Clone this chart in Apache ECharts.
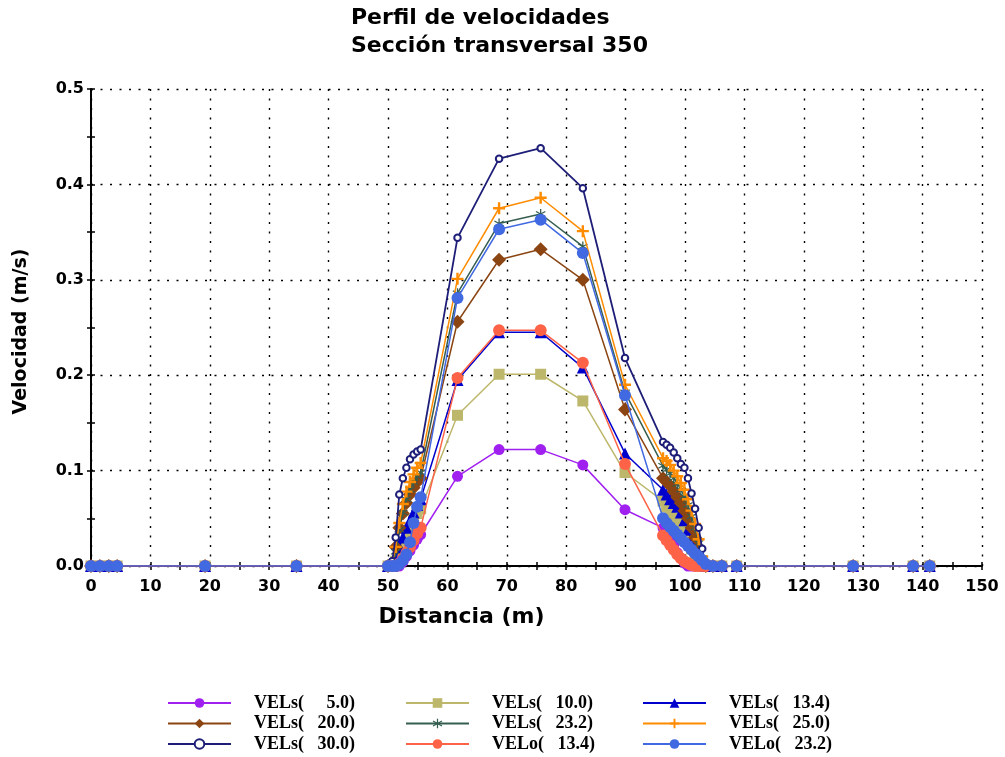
<!DOCTYPE html>
<html>
<head>
<meta charset="utf-8">
<script src="https://cdn.jsdelivr.net/npm/echarts@6/dist/echarts.min.js"></script>
<style>
html,body{margin:0;padding:0;background:#fff;}
#c{width:1005px;height:757px;}
</style>
</head>
<body>
<div id="c"></div>
<script>
// Stations (m)
const stations = [0, 1.5, 3.0, 4.4, 19.2, 34.6,
  50.0, 50.7, 51.3, 51.9, 52.5, 53.1, 53.7, 54.3, 54.9, 55.5,
  61.7, 68.7, 75.7, 82.8, 89.9,
  96.3, 96.9, 97.5, 98.1, 98.7, 99.3, 99.9, 100.5, 101.1, 101.7, 102.3, 102.9, 103.5,
  104.7, 106.2, 108.7, 128.3, 138.4, 141.2];

// Velocities (m/s)
const vels5 = [0,0,0,0,0,0,
  0,0,0,0,0.004,0.010,0.016,0.022,0.028,0.033,
  0.094,0.122,0.122,0.106,0.059,
  0.040,0.035,0.030,0.022,0.014,0.008,0.003,0,0,0,0,0,0,
  0,0,0,0,0,0];
const vels10 = [0,0,0,0,0,0,
  0,0,0.005,0.015,0.024,0.032,0.040,0.048,0.055,0.060,
  0.158,0.201,0.201,0.173,0.098,
  0.068,0.062,0.056,0.050,0.045,0.040,0.033,0.026,0.018,0.010,0.004,0,0,
  0,0,0,0,0,0];
const vels134 = [0,0,0,0,0,0,
  0,0,0.008,0.020,0.030,0.040,0.048,0.056,0.064,0.070,
  0.195,0.245,0.245,0.208,0.118,
  0.080,0.075,0.070,0.066,0.062,0.056,0.048,0.038,0.028,0.017,0.008,0.002,0,
  0,0,0,0,0,0];
const vels20 = [0,0,0,0,0,0,
  0,0.002,0.020,0.040,0.055,0.066,0.075,0.082,0.088,0.092,
  0.256,0.321,0.332,0.300,0.164,
  0.092,0.088,0.084,0.078,0.072,0.066,0.058,0.050,0.040,0.030,0.018,0.005,0,
  0,0,0,0,0,0];
const vels232 = [0,0,0,0,0,0,
  0,0.002,0.015,0.038,0.056,0.070,0.080,0.088,0.094,0.098,
  0.286,0.359,0.369,0.335,0.182,
  0.105,0.101,0.097,0.092,0.086,0.080,0.073,0.064,0.052,0.040,0.024,0.008,0,
  0,0,0,0,0,0];
const vels25 = [0,0,0,0,0,0,
  0,0.003,0.020,0.045,0.065,0.078,0.088,0.096,0.103,0.108,
  0.301,0.375,0.386,0.351,0.190,
  0.113,0.110,0.106,0.100,0.094,0.087,0.080,0.070,0.058,0.044,0.028,0.010,0,
  0,0,0,0,0,0];
const vels30 = [0,0,0,0,0,0,
  0,0.005,0.030,0.075,0.092,0.103,0.112,0.117,0.120,0.122,
  0.344,0.427,0.438,0.396,0.218,
  0.130,0.127,0.124,0.119,0.113,0.107,0.103,0.092,0.076,0.060,0.040,0.018,0,
  0,0,0,0,0,0];
const velo134 = [0,0,0,0,0,0,
  0,0,0,0.003,0.008,0.014,0.020,0.027,0.034,0.040,
  0.197,0.247,0.247,0.213,0.107,
  0.032,0.027,0.022,0.017,0.012,0.008,0.005,0.003,0.001,0,0,0,0,
  0,0,0,0,0,0];
const velo232 = [0,0,0,0,0,0,
  0,0,0,0.002,0.006,0.012,0.025,0.045,0.062,0.072,
  0.281,0.353,0.363,0.328,0.179,
  0.050,0.045,0.041,0.037,0.033,0.029,0.025,0.021,0.017,0.013,0.010,0.006,0.002,
  0,0,0,0,0,0];

const seriesNames = ['VELs(     5.0)','VELs(   10.0)','VELs(   13.4)','VELs(   20.0)','VELs(   23.2)',
  'VELs(   25.0)','VELs(   30.0)','VELo(   13.4)','VELo(   23.2)'];

const PLUS = 'path://M4,0H6V4H10V6H6V10H4V6H0V4H4Z';
const STAR = 'path://M4.4,0L5.6,0L5.6,10L4.4,10Z M0.37,3.02L0.97,1.98L9.63,6.98L9.03,8.02Z M9.03,1.98L9.63,3.02L0.97,8.02L0.37,6.98Z';

const styles = [
  {data: vels5,   color:'#A020F0', symbol:'circle',      size:11},
  {data: vels10,  color:'#BDB76B', symbol:'rect',        size:11},
  {data: vels134, color:'#0000CD', symbol:'triangle',    size:12},
  {data: vels20,  color:'#8B4513', symbol:'diamond',     size:14},
  {data: vels232, color:'#355E50', symbol:STAR,          size:10},
  {data: vels25,  color:'#FF8C00', symbol:PLUS,          size:12},
  {data: vels30,  color:'#1E1E78', symbol:'emptyCircle', size:6.5},
  {data: velo134, color:'#FF6347', symbol:'circle',      size:12},
  {data: velo232, color:'#4169E1', symbol:'circle',      size:12}
];

const series = styles.map((s, i) => ({
  name: seriesNames[i],
  type: 'line',
  data: stations.map((x, k) => [x, s.data[k]]),
  symbol: s.symbol,
  symbolSize: s.size,
  showAllSymbol: true,
  color: s.color,
  lineStyle: {color: s.color, width: i === 6 ? 1.8 : 1.5},
  itemStyle: {color: s.color, borderWidth: i === 6 ? 1.5 : 0},
  emphasis: {disabled: true},
  z: 2 + i
}));

const legendText = {
  fontFamily: 'Liberation Serif', fontWeight: 'bold', fontSize: 18, color: '#000', lineHeight: 18,
  rich: {t: {fontFamily: 'Liberation Serif', fontWeight: 'bold', fontSize: 18, color: '#000', lineHeight: 18, padding: [0,0,0,18]}}
};
function mkLegend(left, names) {
  return {
    orient: 'vertical', left: left, top: 694, height: 100, width: 220, itemGap: 2.5,
    itemWidth: 63, itemHeight: 12, padding: 0,
    data: names, textStyle: legendText,
    formatter: n => '{t|' + n + '}',
    selectedMode: false
  };
}

const axisFont = {fontFamily: 'DejaVu Sans', fontWeight: 'bold', fontSize: 16, color: '#000'};
const dotted = {show: true, lineStyle: {color: '#000', type: [2, 7.5], width: 1.4}};

const chart = echarts.init(document.getElementById('c'), null, {renderer: 'canvas'});
chart.setOption({
  animation: false,
  backgroundColor: '#fff',
  title: {
    text: 'Perfil de velocidades\nSección transversal 350',
    left: 346, top: -1,
    textStyle: {fontFamily: 'DejaVu Sans', fontWeight: 'bold', fontSize: 22, lineHeight: 28, color: '#000'}
  },
  legend: [
    mkLegend(167, [seriesNames[0], seriesNames[3], seriesNames[6]]),
    mkLegend(405, [seriesNames[1], seriesNames[4], seriesNames[7]]),
    mkLegend(642, [seriesNames[2], seriesNames[5], seriesNames[8]])
  ],
  grid: {left: 91, top: 89, width: 891, height: 477, containLabel: false},
  xAxis: [{
    type: 'value', min: 0, max: 150, interval: 10,
    name: 'Distancia (m)', nameLocation: 'middle', nameGap: 40,
    nameTextStyle: {fontFamily: 'DejaVu Sans', fontWeight: 'bold', fontSize: 22, color: '#000', padding: [0,150,0,0]},
    axisLine: {show: true, lineStyle: {color: '#000', width: 2}},
    axisTick: {show: true, length: 4, lineStyle: {color: '#000', width: 1.5}},
    minorTick: {show: true, splitNumber: 2, length: 4, lineStyle: {color: '#000', width: 1.5}},
    axisLabel: Object.assign({margin: 13}, axisFont),
    splitLine: dotted
  }, {
    type: 'value', min: 0, max: 150, interval: 10, position: 'bottom',
    axisLine: {show: false}, axisLabel: {show: false}, splitLine: {show: false},
    axisTick: {show: true, inside: true, length: 4, lineStyle: {color: '#000', width: 1.5}},
    minorTick: {show: true, splitNumber: 2, length: 4, lineStyle: {color: '#000', width: 1.5}}
  }],
  yAxis: [{
    type: 'value', min: 0, max: 0.5, interval: 0.1,
    name: 'Velocidad (m/s)', nameLocation: 'middle', nameGap: 60,
    nameTextStyle: {fontFamily: 'DejaVu Sans', fontWeight: 'bold', fontSize: 19, color: '#000', padding: [0,8,0,0]},
    axisLine: {show: true, lineStyle: {color: '#000', width: 2}},
    axisTick: {show: true, length: 4, lineStyle: {color: '#000', width: 1.5}},
    minorTick: {show: true, splitNumber: 2, length: 4, lineStyle: {color: '#000', width: 1.5}},
    axisLabel: Object.assign({margin: 7, formatter: v => v.toFixed(1)}, axisFont),
    splitLine: dotted
  }, {
    type: 'value', min: 0, max: 0.5, interval: 0.1, position: 'left',
    axisLine: {show: false}, axisLabel: {show: false}, splitLine: {show: false},
    axisTick: {show: true, inside: true, length: 4, lineStyle: {color: '#000', width: 1.5}},
    minorTick: {show: true, splitNumber: 2, length: 4, lineStyle: {color: '#000', width: 1.5}}
  }],
  series: series
});
</script>
</body>
</html>
